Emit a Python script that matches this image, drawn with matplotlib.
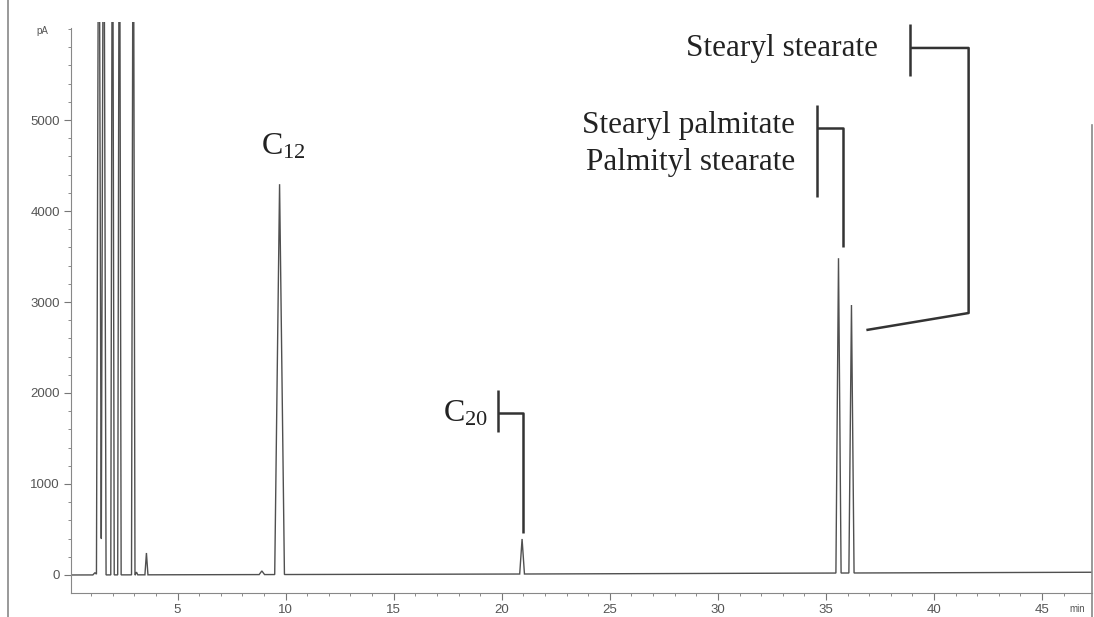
import numpy as np
import matplotlib
matplotlib.use("Agg")
import matplotlib.pyplot as plt
from matplotlib.lines import Line2D

plt.rcParams['mathtext.fontset'] = 'custom'
plt.rcParams['mathtext.rm'] = 'Liberation Serif'
plt.rcParams['mathtext.it'] = 'Liberation Serif'

# peak table: retention time (min), height (pA), base width (min)
peak_rt     = [1.18, 1.36, 1.58, 1.99, 2.31, 2.95, 3.10, 3.56, 8.90, 9.72, 20.94, 35.58, 36.18]
peak_height = [25, 9000, 9000, 9000, 9000, 9000, 30, 240, 40, 4290, 385, 3460, 2945]
peak_width  = [0.20, 0.225, 0.225, 0.16, 0.16, 0.16, 0.12, 0.14, 0.25, 0.45, 0.22, 0.24, 0.24]

# baseline drift
base_t = [0.0, 20.0, 47.3]
base_v = [0.0, 10.0, 30.0]

trace_color = '#505050'
tick_color = '#777777'
serif = ['Liberation Serif', 'DejaVu Serif']
narrow = ['Liberation Sans Narrow', 'Liberation Sans', 'DejaVu Sans']

fig = plt.figure(figsize=(10.94, 6.17), dpi=100)
ax = fig.add_axes([0.0649, 0.0389, 0.9331, 0.9254])

# build the trace as baseline + triangular peaks
t_pts = [base_t[0], base_t[-1]]
for rt, w in zip(peak_rt, peak_width):
    t_pts += [rt - w / 2, rt, rt + w / 2]
t_pts = np.array(sorted(t_pts))
sig = np.interp(t_pts, base_t, base_v)
for rt, h, w in zip(peak_rt, peak_height, peak_width):
    tri = np.clip(1 - np.abs(t_pts - rt) / (w / 2), 0, None)
    sig = sig + h * tri
ax.plot(t_pts, sig, color=trace_color, lw=1.0, solid_joinstyle='miter')

ax.set_xlim(0.07, 47.3)
ax.set_ylim(-198, 6077)

for s in ['top', 'right']:
    ax.spines[s].set_visible(False)
ax.spines['left'].set_bounds(-198, 6010)
for s in ['left', 'bottom']:
    ax.spines[s].set_color('#888888')
    ax.spines[s].set_linewidth(0.8)

ax.set_xticks(np.arange(5, 46, 5))
ax.set_xticks(np.arange(1, 47, 1), minor=True)
ax.set_yticks(np.arange(0, 5001, 1000))
ax.set_yticks(np.arange(0, 6001, 200), minor=True)
ax.tick_params(axis='both', which='major', length=5, width=0.8, color=tick_color,
               labelcolor='#555555', labelsize=9.5, pad=3)
ax.tick_params(axis='both', which='minor', length=2.5, width=0.6, color=tick_color)
for lab in ax.get_xticklabels() + ax.get_yticklabels():
    lab.set_family(narrow)

ax.text(-0.022, 0.985, 'pA', transform=ax.transAxes, ha='right', va='center',
        fontsize=7, color='#555555', family=narrow)
ax.text(0.986, -0.028, 'min', transform=ax.transAxes, ha='center', va='center',
        fontsize=7, color='#555555', family=narrow)

# peak labels
ax.text(9.88, 4616, r'C$_{\mathrm{12}}$', ha='center', va='baseline',
        fontsize=23, family=serif, color='#222222')
ax.text(19.38, 1692, r'C$_{\mathrm{20}}$', ha='right', va='baseline',
        fontsize=23, family=serif, color='#222222')
ax.text(33.59, 4945, 'Stearyl palmitate', ha='right', va='center',
        fontsize=22.5, family=serif, color='#222222')
ax.text(33.59, 4528, 'Palmityl stearate', ha='right', va='center',
        fontsize=22.5, family=serif, color='#222222')
ax.text(37.43, 5790, 'Stearyl stearate', ha='right', va='center',
        fontsize=22.5, family=serif, color='#222222')

# brackets
lk = dict(color='#333333', lw=1.8, solid_capstyle='butt')
ax.plot([19.84, 19.84], [1571, 2033], **lk)
ax.plot([19.84, 21.0, 21.0], [1780, 1780, 462], **lk)
ax.plot([34.6, 34.6], [4154, 5165], **lk)
ax.plot([34.6, 35.81, 35.81], [4912, 4912, 3605], **lk)
ax.plot([38.91, 38.91], [5484, 6055], **lk)
ax.plot([38.91, 41.6, 41.6, 36.87], [5792, 5792, 2879, 2692], **lk)

# scan borders
fig.add_artist(Line2D([8 / 1094, 8 / 1094], [0, 1], color='#888888', lw=1.2))
fig.add_artist(Line2D([1092 / 1094, 1092 / 1094], [0, 1 - 125 / 617], color='#888888', lw=1.2))

fig.savefig('out.png', dpi=100, facecolor='white')
